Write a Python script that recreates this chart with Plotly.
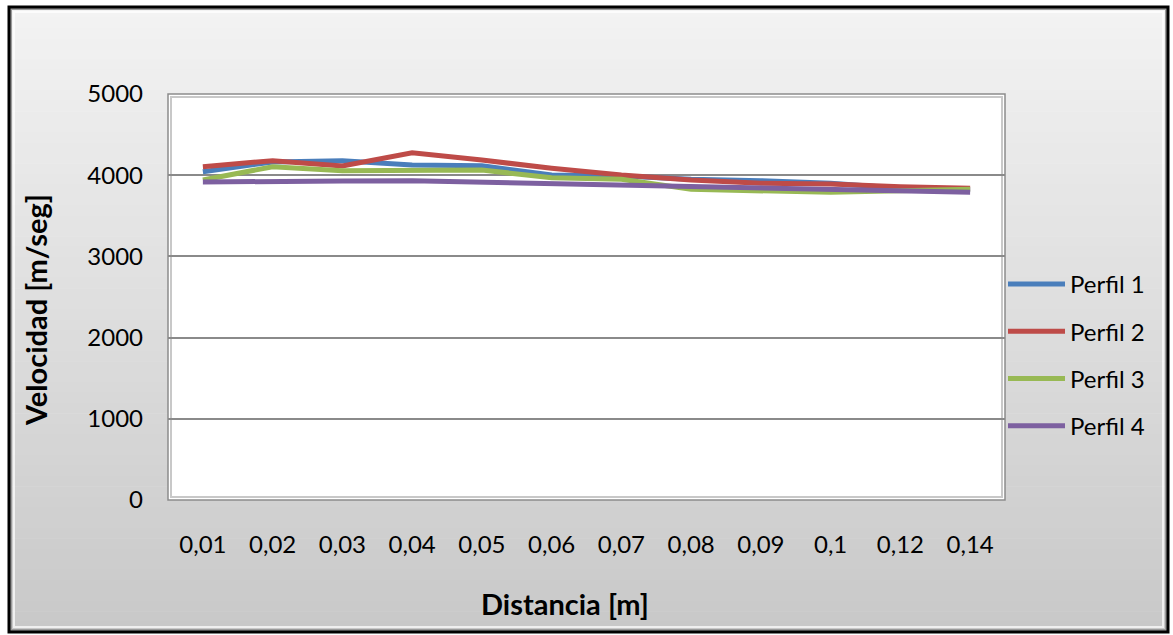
import plotly.graph_objects as go

categories = ["0,01", "0,02", "0,03", "0,04", "0,05", "0,06", "0,07", "0,08", "0,09", "0,1", "0,12", "0,14"]
perfil_1 = [4043, 4163, 4179, 4126, 4117, 4002, 3990, 3949, 3932, 3900, 3840, 3820]
perfil_2 = [4105, 4179, 4113, 4277, 4187, 4085, 4002, 3941, 3900, 3892, 3859, 3839]
perfil_3 = [3941, 4105, 4055, 4064, 4064, 3969, 3949, 3826, 3805, 3789, 3809, 3826]
perfil_4 = [3916, 3929, 3929, 3932, 3916, 3900, 3879, 3867, 3839, 3826, 3809, 3789]
series_names = ["Perfil 1", "Perfil 2", "Perfil 3", "Perfil 4"]
series_colors = ["#4A7EBB", "#BE4B48", "#98B954", "#7D60A0"]
y_ticks = [0, 1000, 2000, 3000, 4000, 5000]

W, H = 1173, 635
L, R, T, B = 168, 1005, 94, 500  # plot area in pixels
FONT = "Lato, 'Open Sans', sans-serif"


def px(x):
    return (x - L) / (R - L)


def py(y):
    return (B - y) / (B - T)


fig = go.Figure()
for name, vals, col in zip(series_names, [perfil_1, perfil_2, perfil_3, perfil_4], series_colors):
    fig.add_trace(go.Scatter(
        x=categories, y=vals, name=name, mode="lines",
        line=dict(color=col, width=5),
        legendgroup=name,
    ))

shapes = []
# gradient background of chart area
x0, x1, y0, y1 = 9, 1168, 7, 632
n = 60
top_c, bot_c = 243, 200
for i in range(n):
    ya = y0 + (y1 - y0) * i / n
    yb = y0 + (y1 - y0) * (i + 1) / n + 0.6
    c = round(top_c + (bot_c - top_c) * (i + 0.5) / n)
    shapes.append(dict(type="rect", xref="paper", yref="paper", layer="below",
                       x0=px(x0), x1=px(x1), y0=py(ya), y1=py(min(yb, y1)),
                       line=dict(width=0), fillcolor=f"rgb({c},{c},{c})"))
# bevel of chart area
shapes.append(dict(type="rect", xref="paper", yref="paper", layer="below",
                   x0=px(x0 + 5), x1=px(x1 - 5), y0=py(y0 + 5), y1=py(y1 - 5),
                   line=dict(color="rgba(255,255,255,0.7)", width=2), fillcolor="rgba(0,0,0,0)"))
shapes.append(dict(type="rect", xref="paper", yref="paper", layer="below",
                   x0=px(x0 + 2), x1=px(x1 - 2), y0=py(y0 + 2), y1=py(y1 - 2),
                   line=dict(color="#9a9a9a", width=2), fillcolor="rgba(0,0,0,0)"))
# outer black border
shapes.append(dict(type="rect", xref="paper", yref="paper", layer="below",
                   x0=px(x0), x1=px(x1), y0=py(y0), y1=py(y1),
                   line=dict(color="#000000", width=3), fillcolor="rgba(0,0,0,0)"))
# plot area white with frame
shapes.append(dict(type="rect", xref="paper", yref="paper", layer="below",
                   x0=0, x1=1, y0=0, y1=1,
                   line=dict(color="#8c8c8c", width=1.5), fillcolor="#ffffff"))
shapes.append(dict(type="rect", xref="paper", yref="paper", layer="below",
                   x0=px(L + 3), x1=px(R - 3), y0=py(B - 3), y1=py(T + 3),
                   line=dict(color="#c8c8c8", width=2), fillcolor="rgba(0,0,0,0)"))

annotations = [
    dict(text="<b>Velocidad [m/seg]</b>", xref="paper", yref="paper",
         x=px(35), y=py(310), textangle=-90, showarrow=False,
         font=dict(family=FONT, size=29, color="#000000"), xanchor="center", yanchor="middle"),
    dict(text="<b>Distancia [m]</b>", xref="paper", yref="paper",
         x=px(565), y=py(603), showarrow=False,
         font=dict(family=FONT, size=29, color="#000000"), xanchor="center", yanchor="middle"),
]

fig.update_layout(
    width=W, height=H,
    margin=dict(l=L, r=W - R, t=T, b=H - B, pad=0),
    paper_bgcolor="#ffffff",
    plot_bgcolor="rgba(0,0,0,0)",
    shapes=shapes,
    annotations=annotations,
    showlegend=True,
    legend=dict(
        x=px(1003), y=py(355), xanchor="left", yanchor="middle",
        font=dict(family=FONT, size=24, color="#000000"),
        bgcolor="rgba(0,0,0,0)", borderwidth=0,
        tracegroupgap=13, itemwidth=57,
    ),
    xaxis=dict(
        type="category", categoryorder="array", categoryarray=categories,
        range=[-0.5, len(categories) - 0.5],
        showgrid=False, zeroline=False, showline=False, ticks="",
        tickfont=dict(family=FONT, size=24, color="#000000"),
        ticklabelstandoff=28,
    ),
    yaxis=dict(
        range=[0, 5000], tickvals=y_ticks, ticktext=[str(v) for v in y_ticks],
        showgrid=True, gridcolor="#8a8a8a", gridwidth=2,
        zeroline=False, showline=False, ticks="",
        tickfont=dict(family=FONT, size=24, color="#000000"),
        ticklabelstandoff=24,
    ),
)

fig.write_html("out.html")
